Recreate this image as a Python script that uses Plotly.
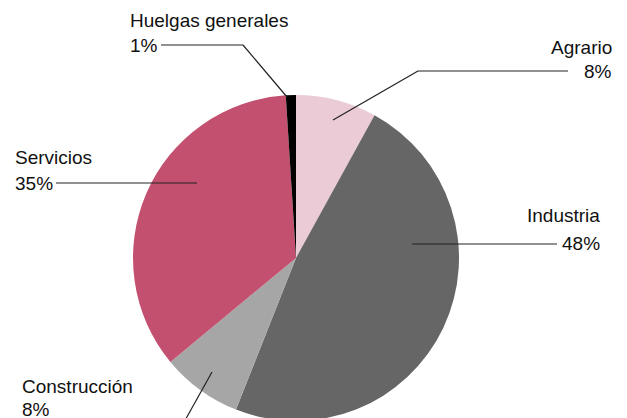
import plotly.graph_objects as go

# Data
labels = ["Agrario", "Industria", "Construcción", "Servicios", "Huelgas generales"]
values = [8, 48, 8, 35, 1]
pct_labels = ["8%", "48%", "8%", "35%", "1%"]
colors = ["#EBCBD6", "#666666", "#A6A6A6", "#C2506E", "#000000"]

OFF = 8  # page body margin
W, H = 627 - 2 * OFF, 440 - OFF
CX, CY, R = 296, 258, 163

def px(x):
    return (x - OFF) / W

def py(y):
    return 1 - (y - OFF) / H

fig = go.Figure()
fig.add_trace(go.Pie(
    labels=labels, values=values, sort=False, direction="clockwise", rotation=0,
    marker=dict(colors=colors, line=dict(width=0)),
    textinfo="none", hoverinfo="label+percent", showlegend=False,
    domain=dict(x=[px(CX - R), px(CX + R)], y=[py(CY + R), py(CY - R)]),
))

FONT = dict(family="Liberation Sans, Arial, sans-serif", size=19, color="#111111")

# label text: (index, x, y_name, y_pct, anchor)
label_pos = [
    (0, 614, 47, 71, "right"),
    (1, 602, 216, 243, "right"),
    (2, 20, 386, 409, "left"),
    (3, 13, 157, 183, "left"),
    (4, 128, 20, 45, "left"),
]
for i, x, yn, yp, anc in label_pos:
    fig.add_annotation(x=px(x), y=py(yn), xref="paper", yref="paper", text=labels[i],
                       showarrow=False, xanchor=anc, yanchor="middle", font=FONT)
    fig.add_annotation(x=px(x), y=py(yp), xref="paper", yref="paper", text=pct_labels[i],
                       showarrow=False, xanchor=anc, yanchor="middle", font=FONT)

# leader lines (pixel paths)
leaders = [
    [(568, 71), (418, 71), (333, 120)],
    [(557, 244), (412, 244)],
    [(183, 424), (212, 372)],
    [(56, 183), (197, 183)],
    [(161, 45), (243, 45), (287, 97)],
]
for pts in leaders:
    for (x0, y0), (x1, y1) in zip(pts[:-1], pts[1:]):
        fig.add_shape(type="line", xref="paper", yref="paper",
                      x0=px(x0), y0=py(y0), x1=px(x1), y1=py(y1),
                      line=dict(color="#222222", width=1.2))

fig.update_layout(width=W, height=H, margin=dict(l=0, r=0, t=0, b=0),
                  paper_bgcolor="white", plot_bgcolor="white")
fig.write_html("out.html")
